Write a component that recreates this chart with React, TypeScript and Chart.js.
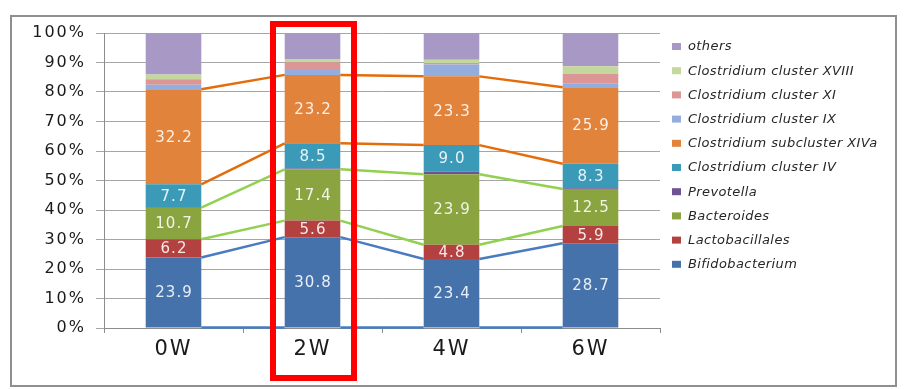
import { useEffect, useRef } from 'react';
import { Chart, registerables } from 'chart.js';

Chart.register(...registerables);

// ---------- data ----------
const categories = ['0W', '2W', '4W', '6W'];
const seriesNames = [
  'Bifidobacterium',
  'Lactobacillales',
  'Bacteroides',
  'Prevotella',
  'Clostridium cluster IV',
  'Clostridium subcluster XIVa',
  'Clostridium cluster IX',
  'Clostridium cluster XI',
  'Clostridium cluster XVIII',
  'others',
];
const bifidobacterium = [23.9, 30.8, 23.4, 28.7];
const lactobacillales = [6.2, 5.6, 4.8, 5.9];
const bacteroides = [10.7, 17.4, 23.9, 12.5];
const prevotella = [0.2, 0.3, 0.9, 0.3];
const clostridiumIV = [7.7, 8.5, 9.0, 8.3];
const clostridiumXIVa = [32.2, 23.2, 23.3, 25.9];
const clostridiumIX = [1.6, 2.0, 4.0, 1.4];
const clostridiumXI = [1.8, 2.3, 0.5, 3.2];
const clostridiumXVIII = [1.6, 1.1, 1.1, 2.5];
const others = [14.1, 8.8, 9.1, 11.3];
const seriesValues = [
  bifidobacterium, lactobacillales, bacteroides, prevotella, clostridiumIV,
  clostridiumXIVa, clostridiumIX, clostridiumXI, clostridiumXVIII, others,
];
const yTickValues = [0, 10, 20, 30, 40, 50, 60, 70, 80, 90, 100];

// ---------- styles ----------
const seriesColors = [
  '#4672ab', '#b3413f', '#8aa43f', '#6c5394', '#3b9ab7',
  '#e2833c', '#93aede', '#db9695', '#c4d79c', '#a898c5',
];
const labelledSeries = [0, 1, 2, 4, 5];
// series lines: dataset index, edge, colour
const seriesLines = [
  { ds: 0, edge: 'base', color: '#4a7bc0' },
  { ds: 0, edge: 'top', color: '#4a7bc0' },
  { ds: 1, edge: 'top', color: '#92d050' },
  { ds: 2, edge: 'top', color: '#92d050' },
  { ds: 4, edge: 'top', color: '#e46c0a' },
  { ds: 5, edge: 'top', color: '#e46c0a' },
];

const FONT = "'DejaVu Sans', Verdana, sans-serif";

const overlayPlugin = {
  id: 'overlay',
  beforeDraw(chart: any) {
    chart.ctx.letterSpacing = '2px';
  },
  afterDatasetsDraw(chart: any) {
    const ctx = chart.ctx;
    ctx.save();
    // series lines
    ctx.lineWidth = 2.5;
    ctx.lineCap = 'butt';
    for (const sl of seriesLines) {
      const els = chart.getDatasetMeta(sl.ds).data;
      ctx.strokeStyle = sl.color;
      for (let j = 0; j < els.length - 1; j++) {
        const a = els[j].getProps(['x', 'y', 'base', 'width'], true);
        const b = els[j + 1].getProps(['x', 'y', 'base', 'width'], true);
        const ya = sl.edge === 'base' ? a.base : a.y;
        const yb = sl.edge === 'base' ? b.base : b.y;
        ctx.beginPath();
        ctx.moveTo(a.x + a.width / 2, ya);
        ctx.lineTo(b.x - b.width / 2, yb);
        ctx.stroke();
      }
    }
    // data labels
    ctx.letterSpacing = '1px';
    ctx.font = `15px ${FONT}`;
    ctx.textAlign = 'center';
    ctx.textBaseline = 'middle';
    ctx.fillStyle = 'rgba(255,255,255,0.88)';
    for (const ds of labelledSeries) {
      const els = chart.getDatasetMeta(ds).data;
      els.forEach((el: any, j: number) => {
        const p = el.getProps(['x', 'y', 'base'], true);
        const v = chart.data.datasets[ds].data[j];
        ctx.fillText(Number(v).toFixed(1), p.x + 0.5, (p.y + p.base) / 2 + 1);
      });
    }
    ctx.restore();
  },
  afterDraw(chart: any) {
    // legend (reversed order, drawn to the right of the plot)
    const ctx = chart.ctx;
    const area = chart.chartArea;
    ctx.save();
    ctx.letterSpacing = '0.4px';
    ctx.font = `italic 13px ${FONT}`;
    ctx.textAlign = 'left';
    ctx.textBaseline = 'middle';
    const n = chart.data.datasets.length;
    const x0 = area.right + 12;
    const y0 = area.top + 13;
    const step = 24.2;
    for (let k = 0; k < n; k++) {
      const i = n - 1 - k;
      const y = y0 + k * step;
      ctx.fillStyle = seriesColors[i];
      ctx.fillRect(x0, y - 3, 9, 7);
      ctx.fillStyle = '#262626';
      ctx.fillText(chart.data.datasets[i].label, x0 + 16, y + 1);
    }
    ctx.restore();
    ctx.letterSpacing = '0px';
  },
};

export default function App() {
  const ref = useRef<HTMLCanvasElement>(null);

  useEffect(() => {
    if (!ref.current) return;
    const chart = new Chart(ref.current, {
      type: 'bar',
      data: {
        labels: categories,
        datasets: seriesNames.map((name, i) => ({
          label: name,
          data: seriesValues[i],
          backgroundColor: seriesColors[i],
          borderWidth: 0,
          barPercentage: 0.4,
          categoryPercentage: 1,
        })),
      },
      options: {
        responsive: false,
        animation: false,
        devicePixelRatio: 1,
        layout: { padding: { left: 0, top: 33, right: 252, bottom: 0 } },
        plugins: { legend: { display: false }, tooltip: { enabled: false } },
        scales: {
          x: {
            stacked: true,
            grid: {
              drawOnChartArea: false,
              drawTicks: true,
              tickLength: 5,
              color: '#8c8c8c',
              offset: true,
            },
            border: { color: '#8c8c8c', width: 1 },
            ticks: {
              color: '#1a1a1a',
              font: { family: FONT, size: 21 },
              padding: 4,
            },
            afterFit: (s: any) => { s.height = 61; },
          },
          y: {
            stacked: true,
            min: 0,
            max: 100,
            afterBuildTicks: (s: any) => { s.ticks = yTickValues.map((v) => ({ value: v })); },
            grid: { color: '#a6a6a6', tickLength: 8, lineWidth: 1 },
            border: { color: '#8c8c8c', width: 1 },
            ticks: {
              color: '#1a1a1a',
              font: { family: FONT, size: 16 },
              padding: 10,
              callback: (v: any) => `${v}%`,
            },
            afterFit: (s: any) => { s.width = 104; },
          },
        },
      },
      plugins: [overlayPlugin],
    });
    return () => chart.destroy();
  }, []);

  return (
    <div style={{ position: 'absolute', left: 0, top: 0, width: 912, height: 389, background: '#fff' }}>
      <canvas ref={ref} width={912} height={389} style={{ position: 'absolute', left: 0, top: 0, width: 912, height: 389 }} />
      <div style={{ position: 'absolute', left: 10, top: 15, width: 887, height: 372, border: '2px solid #8f8f8f', boxSizing: 'border-box', pointerEvents: 'none' }} />
      <div style={{ position: 'absolute', left: 270, top: 21, width: 87, height: 360, border: '6px solid #ff0000', boxSizing: 'border-box', pointerEvents: 'none' }} />
    </div>
  );
}
